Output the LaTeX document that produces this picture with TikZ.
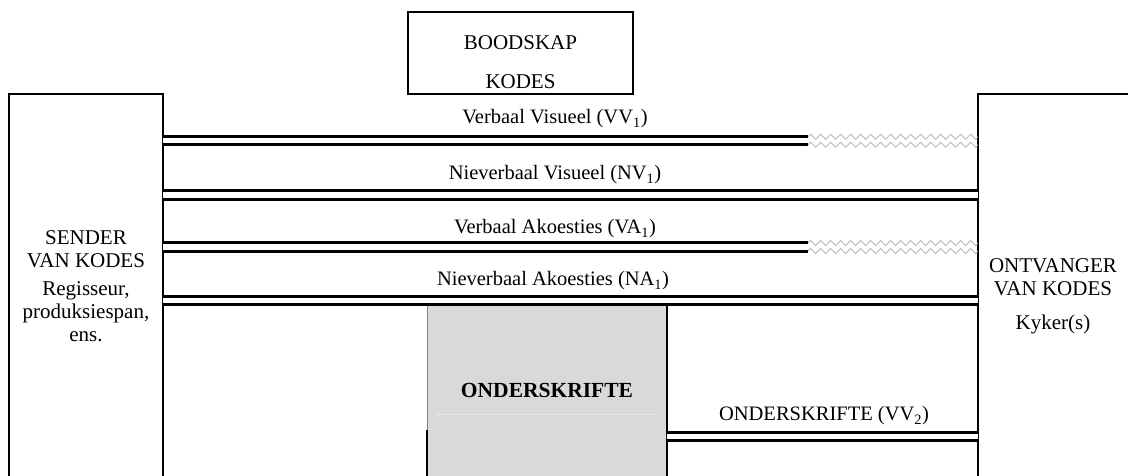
\documentclass[tikz,border=0pt]{standalone}
\usepackage{fontspec}
\setmainfont{Liberation Serif}
\usetikzlibrary{decorations.pathmorphing}

\begin{document}
\begin{tikzpicture}[x=1pt,y=-1pt,
  kanaal/.style={draw=black, double=white, line width=3pt, double distance=5.5pt},
  ruis/.style={draw=gray!65, line width=0.7pt, decorate, decoration={zigzag, segment length=10pt, amplitude=2.5pt}},
  etiket/.style={font=\fontsize{20.5}{22}\selectfont, inner sep=0pt},
  bokstek/.style={font=\fontsize{21}{23}\selectfont, align=center, inner sep=0pt}]
\useasboundingbox (0,0) rectangle (1128,476);
% boxes
\draw[line width=1.5pt] (9,476) -- (9,94) -- (163,94) -- (163,476);
\draw[line width=1.5pt] (978,476) -- (978,94) -- (1128,94);
\node[draw, line width=1.2pt, minimum width=225pt, minimum height=82pt, inner sep=0pt] (boodskap) at (520.5,53) {};
\node[bokstek] (boodskap1) at (520.5,43) {BOODSKAP};
\node[bokstek] (boodskap2) at (520.5,82) {KODES};
\node[bokstek] (sender) at (86,286) {SENDER\\VAN KODES\\[5pt]Regisseur,\\produksiespan,\\ens.};
\node[bokstek] (ontvanger) at (1053,296) {ONTVANGER\\VAN KODES\\[11pt]Kyker(s)};
% subtitles
\fill[gray!30] (427,306) rectangle (667,476);
\draw[gray!18, line width=0.5pt] (436,414) -- (657,414);
\draw[gray, line width=0.6pt] (427,306) -- (427,430);
\draw[line width=1.5pt] (427,430) -- (427,476);
\draw[line width=1.5pt] (667,306) -- (667,476);
\node[bokstek, font=\fontsize{21.5}{23}\selectfont\bfseries] (onderskrifte) at (547,390) {ONDERSKRIFTE};
% channels
\coordinate (s1) at (163,140.75);
\coordinate (r1) at (808,140.75);
\coordinate (o1) at (978,140.75);
\coordinate (s2) at (163,195);
\coordinate (o2) at (978,195);
\coordinate (s3) at (163,247);
\coordinate (r3) at (808,247);
\coordinate (o3) at (978,247);
\coordinate (s4) at (163,300.5);
\coordinate (o4) at (978,300.5);
\coordinate (s5) at (667,436.25);
\coordinate (o5) at (978,436.25);
\draw[kanaal] (s1) -- (r1);
\draw[ruis] ([yshift=4pt]r1) -- ([yshift=4pt]o1);
\draw[ruis] ([yshift=-4pt]r1) -- ([yshift=-4pt]o1);
\draw[kanaal] (s2) -- (o2);
\draw[kanaal] (s3) -- (r3);
\draw[ruis] ([yshift=4pt]r3) -- ([yshift=4pt]o3);
\draw[ruis] ([yshift=-4pt]r3) -- ([yshift=-4pt]o3);
\draw[kanaal] (s4) -- (o4);
\draw[kanaal] (s5) -- (o5);
\node[etiket] (vv1) at (555,119) {Verbaal Visueel (VV\textsubscript{1})};
\node[etiket] (nv1) at (555,175) {Nieverbaal Visueel (NV\textsubscript{1})};
\node[etiket] (va1) at (555,229) {Verbaal Akoesties (VA\textsubscript{1})};
\node[etiket] (na1) at (553,281) {Nieverbaal Akoesties (NA\textsubscript{1})};
\node[etiket] (vv2) at (824,416) {ONDERSKRIFTE (VV\textsubscript{2})};
\end{tikzpicture}
\end{document}
